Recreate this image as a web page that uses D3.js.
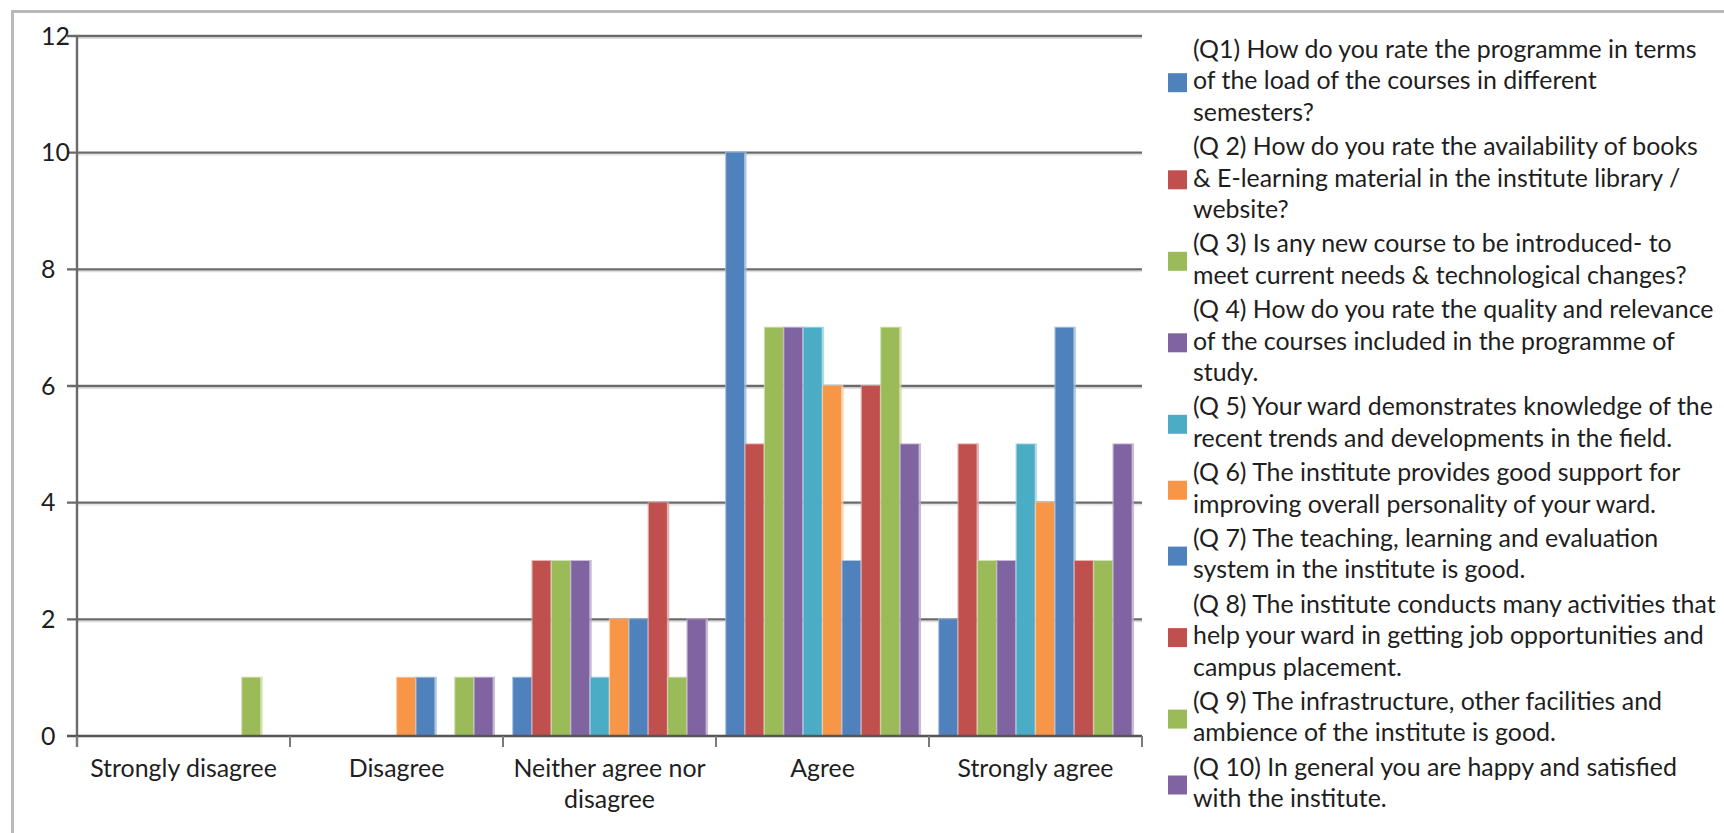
<!DOCTYPE html>
<html>
<head>
<meta charset="utf-8">
<script src="https://cdn.jsdelivr.net/npm/d3@7"></script>
<style>
  html, body { margin: 0; padding: 0; background: #fff; }
  svg { display: block; }
  text { font-family: Lato, "Open Sans", sans-serif; fill: #1e1e1e; }
</style>
</head>
<body>
<svg id="chart" width="1724" height="833"></svg>
<script>
// ---------- data ----------
const categories = ["Strongly disagree", "Disagree", "Neither agree nor disagree", "Agree", "Strongly agree"];
const categoryLabelLines = [["Strongly disagree"], ["Disagree"], ["Neither agree nor", "disagree"], ["Agree"], ["Strongly agree"]];

const seriesKeys = ["Q1", "Q2", "Q3", "Q4", "Q5", "Q6", "Q7", "Q8", "Q9", "Q10"];
const seriesColors = ["#4F81BD", "#C0504D", "#9BBB59", "#8064A2", "#4BACC6", "#F79646", "#4F81BD", "#C0504D", "#9BBB59", "#8064A2"];

const q1  = [0, 0, 1, 10, 2];
const q2  = [0, 0, 3, 5, 5];
const q3  = [0, 0, 3, 7, 3];
const q4  = [0, 0, 3, 7, 3];
const q5  = [0, 0, 1, 7, 5];
const q6  = [0, 1, 2, 6, 4];
const q7  = [0, 1, 2, 3, 7];
const q8  = [0, 0, 4, 6, 3];
const q9  = [1, 1, 1, 7, 3];
const q10 = [0, 1, 2, 5, 5];
const seriesValues = [q1, q2, q3, q4, q5, q6, q7, q8, q9, q10];

const legendLines = [
  ["(Q1) How do you rate the programme in terms", "of the load of the courses in different", "semesters?"],
  ["(Q 2) How do you rate the availability of books", "& E-learning material in the institute library /", "website?"],
  ["(Q 3) Is any new course to be introduced- to", "meet current needs & technological changes?"],
  ["(Q 4) How do you rate the quality and relevance", "of the courses included in the programme of", "study."],
  ["(Q 5) Your ward demonstrates knowledge of the", "recent trends and developments in the field."],
  ["(Q 6) The institute provides good support for", "improving overall personality of your ward."],
  ["(Q 7) The teaching, learning and evaluation", "system in the institute is good."],
  ["(Q 8) The institute conducts many activities that", "help your ward in getting job opportunities and", "campus placement."],
  ["(Q 9) The infrastructure, other facilities and", "ambience of the institute is good."],
  ["(Q 10) In general you are happy and satisfied", "with the institute."]
];

const yTicks = [0, 2, 4, 6, 8, 10, 12];

// ---------- layout ----------
const svg = d3.select("#chart");
const plot = { left: 77, right: 1142, top: 36, bottom: 736 };

// outer frame (continues off the canvas to the right / bottom)
svg.append("path")
  .attr("d", `M12.5,840 L12.5,11.5 L1730,11.5`)
  .attr("fill", "none").attr("stroke", "#b9b9b9").attr("stroke-width", 3);

// font size fitted so that legend text width matches the reference
const probe = svg.append("text").style("font-size", "20px").text(legendLines[0][0]);
const w20 = probe.node().getComputedTextLength();
probe.remove();
const fs = 20 * 504 / w20;

const x0 = d3.scaleBand().domain(categories).range([plot.left, plot.right])
  .paddingInner(0.09).paddingOuter(0.045);
const x1 = d3.scaleBand().domain(seriesKeys).range([0, x0.bandwidth()]).padding(0);
const y = d3.scaleLinear().domain([0, 12]).range([plot.bottom, plot.top]);

// gridlines
const grid = svg.append("g");
grid.selectAll("line.shadow").data(yTicks.filter(d => d > 0)).join("line")
  .attr("class", "shadow")
  .attr("x1", plot.left).attr("x2", plot.right)
  .attr("y1", d => y(d) + 2.2).attr("y2", d => y(d) + 2.2)
  .attr("stroke", "#dedede").attr("stroke-width", 1.4);
grid.selectAll("line.main").data(yTicks.filter(d => d > 0)).join("line")
  .attr("class", "main")
  .attr("x1", plot.left - 10).attr("x2", plot.right)
  .attr("y1", d => y(d)).attr("y2", d => y(d))
  .attr("stroke", "#6a6a6a").attr("stroke-width", 2.4);

// bars
const groups = svg.append("g").selectAll("g").data(categories).join("g")
  .attr("transform", d => `translate(${x0(d)},0)`);
groups.selectAll("g.bar").data((c, ci) => seriesKeys.map((k, si) => ({ k, si, v: seriesValues[si][ci] })))
  .join("g").attr("class", "bar")
  .each(function (d) {
    if (d.v <= 0) return;
    const g = d3.select(this);
    const bx = x1(d.k), bw = x1.bandwidth();
    const col = seriesColors[d.si];
    const light = d3.interpolateRgb(col, "#ffffff")(0.45);
    g.append("rect").attr("x", bx - 0.6).attr("width", bw + 2.2)
      .attr("y", y(d.v) - 1).attr("height", y(0) - y(d.v) + 1).attr("fill", light).attr("opacity", 0.8);
    g.append("rect").attr("x", bx + 0.6).attr("width", bw - 1.4)
      .attr("y", y(d.v)).attr("height", y(0) - y(d.v)).attr("fill", col);
  });

// axes lines
svg.append("line").attr("x1", plot.left).attr("x2", plot.left).attr("y1", plot.top).attr("y2", plot.bottom + 11)
  .attr("stroke", "#6a6a6a").attr("stroke-width", 2.4);
svg.append("line").attr("x1", plot.left - 10).attr("x2", plot.right).attr("y1", plot.bottom).attr("y2", plot.bottom)
  .attr("stroke", "#555").attr("stroke-width", 2.6);

// x ticks at category boundaries
const boundaries = categories.map((c, i) => plot.left + i * (plot.right - plot.left) / categories.length).concat([plot.right]);
svg.selectAll("line.xtick").data(boundaries).join("line").attr("class", "xtick")
  .attr("x1", d => d).attr("x2", d => d).attr("y1", plot.bottom).attr("y2", plot.bottom + 11)
  .attr("stroke", "#7a7a7a").attr("stroke-width", 2);

// y labels
svg.selectAll("text.ylab").data(yTicks).join("text").attr("class", "ylab")
  .attr("x", 41).attr("y", d => y(d)).attr("dy", "0.35em")
  .style("font-size", fs + "px").text(d => d);

// x labels
const xl = svg.selectAll("text.xlab").data(categories).join("text").attr("class", "xlab")
  .attr("text-anchor", "middle").style("font-size", fs + "px");
xl.each(function (c, i) {
  d3.select(this).selectAll("tspan").data(categoryLabelLines[i]).join("tspan")
    .attr("x", x0(c) + x0.bandwidth() / 2)
    .attr("y", (d, j) => 768 + j * 31).attr("dy", "0.35em").text(d => d);
});

// legend
const lh = 31.2, entryGap = 3.5, legendX = 1193, swatchX = 1168, sw = 19;
let cy = 49.5;
const legend = svg.append("g");
legendLines.forEach((lines, i) => {
  const g = legend.append("g");
  const first = cy, last = cy + (lines.length - 1) * lh;
  const mid = (first + last) / 2 + 2;
  g.append("rect").attr("x", swatchX).attr("y", mid - sw / 2).attr("width", sw).attr("height", sw)
    .attr("fill", seriesColors[i]);
  g.append("text").style("font-size", fs + "px")
    .selectAll("tspan").data(lines).join("tspan")
    .attr("x", legendX).attr("y", (d, j) => first + j * lh).attr("dy", "0.35em").text(d => d);
  cy = last + lh + entryGap;
});
</script>
</body>
</html>
